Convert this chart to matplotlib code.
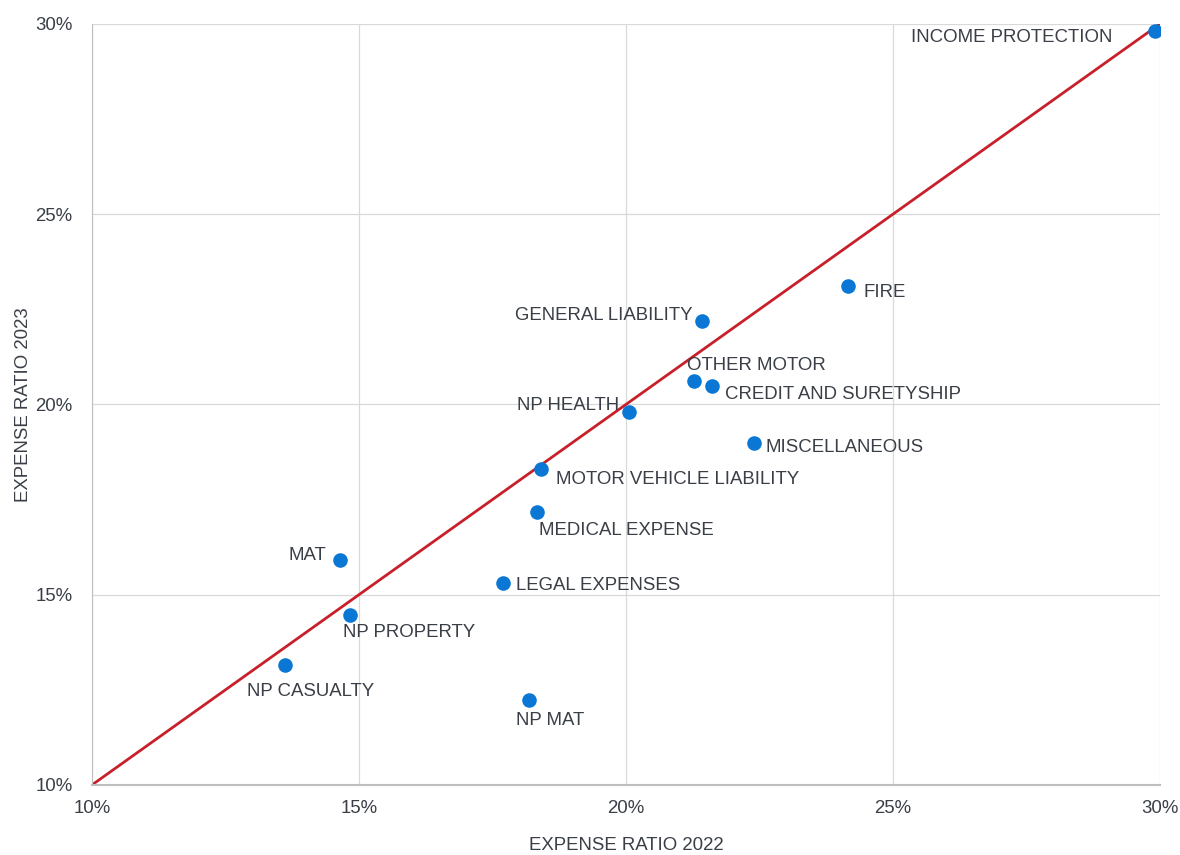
import matplotlib.pyplot as plt
from matplotlib.ticker import FuncFormatter

plt.rcParams['font.family'] = ['Liberation Sans', 'DejaVu Sans']

names = ["INCOME PROTECTION", "FIRE", "GENERAL LIABILITY", "OTHER MOTOR",
         "CREDIT AND SURETYSHIP", "NP HEALTH", "MISCELLANEOUS",
         "MOTOR VEHICLE LIABILITY", "MEDICAL EXPENSE", "MAT", "LEGAL EXPENSES",
         "NP PROPERTY", "NP CASUALTY", "NP MAT"]
ratio_2022 = [29.91, 24.16, 21.42, 21.27, 21.61, 20.06, 22.40, 18.41, 18.33,
              14.64, 17.70, 14.83, 13.61, 18.18]
ratio_2023 = [29.82, 23.11, 22.19, 20.62, 20.49, 19.80, 18.99, 18.30, 17.17,
              15.91, 15.31, 14.47, 13.15, 12.23]
# label offsets (pixels) and alignment
offsets = [(-43, -7, 'right'), (15, -6, 'left'), (-9, 6, 'right'), (-7, 15, 'left'),
           (13, -9, 'left'), (-10, 7, 'right'), (11, -5, 'left'), (15, -10, 'left'),
           (2, -18, 'left'), (-14, 5, 'right'), (13, -3, 'left'), (-7, -18, 'left'),
           (-38, -26, 'left'), (-13, -20, 'left')]

fig = plt.figure(figsize=(11.8, 8.55), dpi=100)
ax = fig.add_axes([0.078, 0.082, 0.905, 0.890])

ax.plot([10, 30], [10, 30], color='#C8202A', lw=2, zorder=2)
ax.scatter(ratio_2022, ratio_2023, s=110, color='#0A77D5', zorder=3, linewidths=0)

for n, x, y, (dx, dy, ha) in zip(names, ratio_2022, ratio_2023, offsets):
    ax.annotate(n, (x, y), xytext=(dx, dy), textcoords='offset pixels',
                ha=ha, va='center', fontsize=13.4, color='#3A3F47')

ax.set_xlim(10, 30)
ax.set_ylim(10, 30)
ax.set_xticks([10, 15, 20, 25, 30])
ax.set_yticks([10, 15, 20, 25, 30])
fmt = FuncFormatter(lambda v, p: f"{v:.0f}%")
ax.xaxis.set_major_formatter(fmt)
ax.yaxis.set_major_formatter(fmt)
ax.grid(True, color='#D9D9D9', lw=0.9, zorder=0)
ax.set_axisbelow(True)
for s in ['top', 'right']:
    ax.spines[s].set_visible(False)
ax.spines['left'].set_color('#BFBFBF')
ax.spines['bottom'].set_color('#BFBFBF')
ax.spines['bottom'].set_linewidth(1.5)
ax.tick_params(length=0, labelsize=13.4, labelcolor='#3A3F47', pad=11)
ax.tick_params(axis='y', pad=14)

ax.set_xlabel("EXPENSE RATIO 2022", fontsize=13.4, color='#3A3F47', labelpad=14)
ax.set_ylabel("EXPENSE RATIO 2023", fontsize=13.4, color='#3A3F47', labelpad=2)

fig.savefig("out.png", dpi=100)
